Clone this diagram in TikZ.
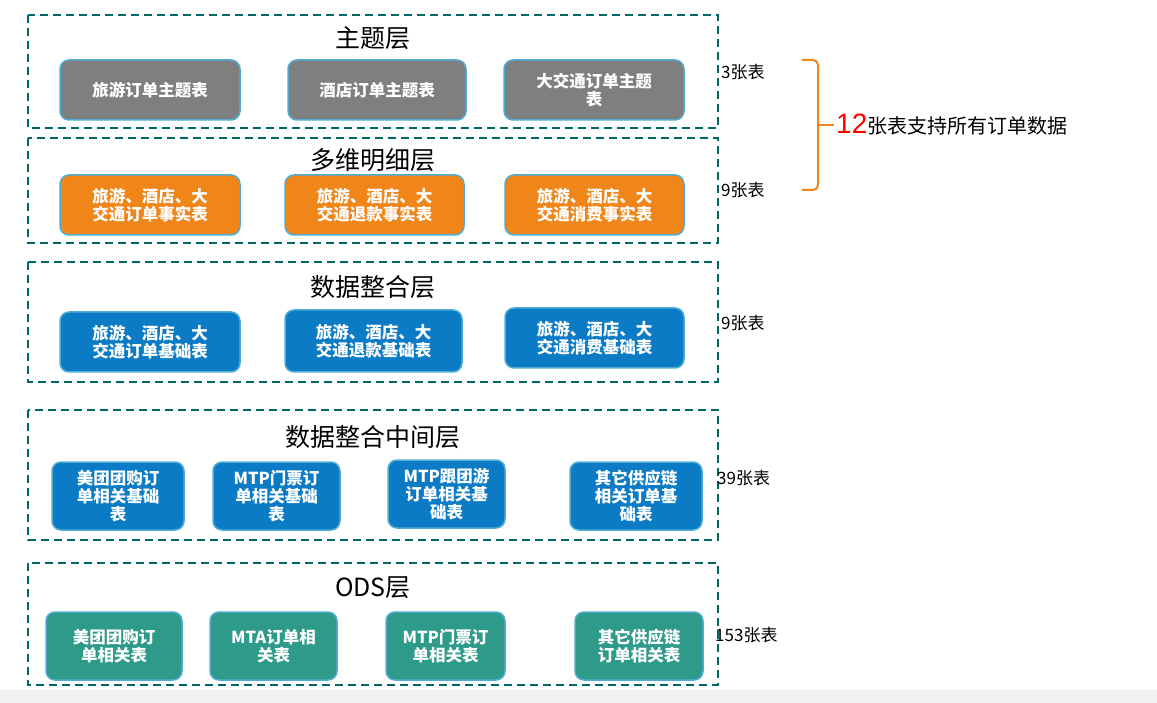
\documentclass[tikz,border=0pt]{standalone}
\usepackage{fontspec}
\setmainfont{Liberation Sans}
\newfontfamily\cjk{Noto Sans CJK SC}
\begin{document}
\begin{tikzpicture}[x=1pt,y=-1pt,
 layer/.style={draw=teal!80!black,line width=2.4pt,dash pattern=on 8pt off 5pt},
 tbl/.style={draw=cyan!60!teal!80,line width=1.5pt,rounded corners=9pt,text=white,font=\cjk\bfseries\fontsize{16.5}{18}\selectfont,align=center},
 ttl/.style={font=\cjk\fontsize{25}{28}\selectfont},
 cnt/.style={font=\cjk\fontsize{17}{19}\selectfont,anchor=west,inner sep=1pt}]
\definecolor{gr}{HTML}{7F7F7F}\definecolor{or}{HTML}{F08519}
\definecolor{bl}{HTML}{0B7BC6}\definecolor{te}{HTML}{2E9A8A}
\useasboundingbox (0,0) rectangle (1157,703);
\fill[black!5] (0,690) rectangle (1157,703);
% layer 1
\draw[layer] (28,15) rectangle (718,128);
\node[ttl] (t1) at (373,38) {主题层};
\draw[tbl,fill=gr] (60,60) rectangle node (a1) {旅游订单主题表} (240,120);
\draw[tbl,fill=gr] (288,60) rectangle node (a2) {酒店订单主题表} (466,120);
\draw[tbl,fill=gr] (504,60) rectangle node (a3) {大交通订单主题\\表} (684,120);
% layer 2
\draw[layer] (28,138) rectangle (718,243);
\node[ttl] (t2) at (373,160) {多维明细层};
\draw[tbl,fill=or] (60,175) rectangle node (b1) {旅游、酒店、大\\交通订单事实表} (240,235);
\draw[tbl,fill=or] (285,175) rectangle node (b2) {旅游、酒店、大\\交通退款事实表} (464,235);
\draw[tbl,fill=or] (505,175) rectangle node (b3) {旅游、酒店、大\\交通消费事实表} (684,235);
% layer 3
\draw[layer] (28,262) rectangle (718,382);
\node[ttl] (t3) at (373,287) {数据整合层};
\draw[tbl,fill=bl] (60,312) rectangle node (c1) {旅游、酒店、大\\交通订单基础表} (240,372);
\draw[tbl,fill=bl] (285,310) rectangle node (c2) {旅游、酒店、大\\交通退款基础表} (462,372);
\draw[tbl,fill=bl] (505,308) rectangle node (c3) {旅游、酒店、大\\交通消费基础表} (684,368);
% layer 4
\draw[layer] (28,410) rectangle (718,540);
\node[ttl] (t4) at (373,437) {数据整合中间层};
\draw[tbl,fill=bl] (52,462) rectangle node (d1) {美团团购订\\单相关基础\\表} (184,530);
\draw[tbl,fill=bl] (213,462) rectangle node (d2) {MTP门票订\\单相关基础\\表} (340,530);
\draw[tbl,fill=bl] (388,460) rectangle node (d3) {MTP跟团游\\订单相关基\\础表} (505,528);
\draw[tbl,fill=bl] (570,462) rectangle node (d4) {其它供应链\\相关订单基\\础表} (702,530);
% layer 5
\draw[layer] (28,563) rectangle (718,685);
\node[ttl] (t5) at (373,588) {ODS层};
\draw[tbl,fill=te] (46,612) rectangle node (e1) {美团团购订\\单相关表} (182,680);
\draw[tbl,fill=te] (210,612) rectangle node (e2) {MTA订单相\\关表} (337,680);
\draw[tbl,fill=te] (386,612) rectangle node (e3) {MTP门票订\\单相关表} (505,680);
\draw[tbl,fill=te] (575,612) rectangle node (e4) {其它供应链\\订单相关表} (703,680);
% counts
\node[cnt] (n1) at (720,72) {3张表};
\node[cnt] (n2) at (720,190) {9张表};
\node[cnt] (n3) at (720,323) {9张表};
\node[cnt] (n4) at (716,478) {39张表};
\node[cnt] (n5) at (714,635) {153张表};
% brace
\coordinate (bt) at (802,60);\coordinate (bb) at (802,190);\coordinate (bm) at (834,125);
\draw[or,line width=2pt,rounded corners=5pt] (bt) -- (818,60) -- (818,190) -- (bb);
\draw[or,line width=2pt] (818,125) -- (bm);
\node[anchor=west,inner sep=2pt] (sum) at (bm) {{\fontsize{28}{30}\selectfont\color{red}12}{\cjk\fontsize{20}{22}\selectfont 张表支持所有订单数据}};
\end{tikzpicture}
\end{document}
